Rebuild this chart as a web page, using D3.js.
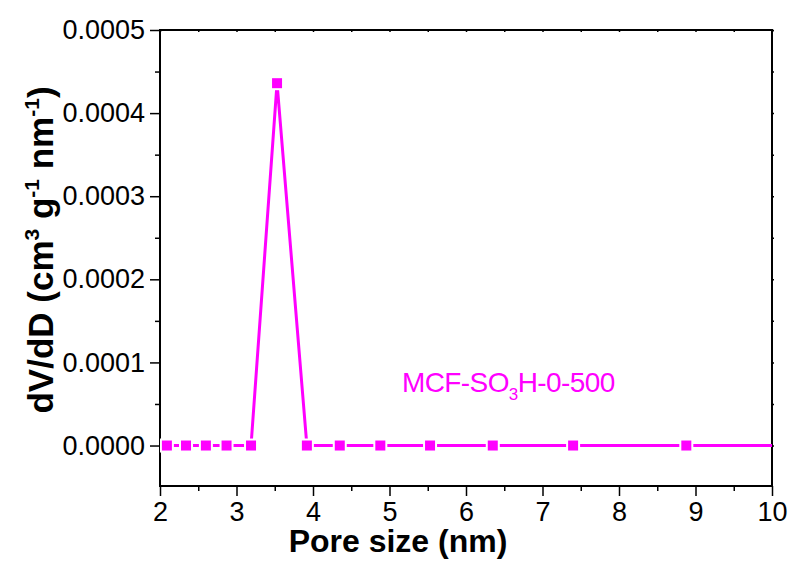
<!DOCTYPE html>
<html>
<head>
<meta charset="utf-8">
<script src="https://cdn.jsdelivr.net/npm/d3@7"></script>
<style>
  body { margin: 0; background: #fff; }
  text { font-family: "Liberation Sans", Arial, sans-serif; }
</style>
</head>
<body>
<div id="chart"></div>
<script>
// pore size distribution, MCF-SO3H-0-500
var poreSize = [2.09, 2.34, 2.60, 2.87, 3.19, 3.53, 3.92, 4.35, 4.88, 5.53, 6.35, 7.40, 8.88, 11.2];
var dvdd = [0, 0, 0, 0, 0, 0.000436, 0, 0, 0, 0, 0, 0, 0, 0];
var xTicks = [2, 3, 4, 5, 6, 7, 8, 9, 10];
var yTicks = [0, 0.0001, 0.0002, 0.0003, 0.0004, 0.0005];

const chart_width = 794;
const chart_height = 563;
const pLeft = 160, pRight = 772, pTop = 30, pBottom = 486;
const color = '#ff00ff';

var svg = d3.select('#chart')
  .append('svg')
  .attr('width', chart_width)
  .attr('height', chart_height);

var x = d3.scaleLinear().domain([2, 10]).range([pLeft, pRight]);
var y = d3.scaleLinear().domain([-0.0000487, 0.0005]).range([pBottom, pTop]);

// minor ticks every half unit
var xMinor = d3.range(2.5, 10, 1);
var yMinor = d3.range(0.00005, 0.0005, 0.0001);

// bottom axis
var xAxis = svg.append('g')
  .attr('transform', 'translate(0,' + pBottom + ')')
  .call(d3.axisBottom(x).tickValues(xTicks).tickSize(10).tickSizeOuter(0).tickFormat(d3.format('d')));
xAxis.selectAll('text').attr('font-size', 27).attr('dy', '0.8em').attr('fill', '#000');
svg.append('g')
  .attr('transform', 'translate(0,' + pBottom + ')')
  .call(d3.axisBottom(x).tickValues(xMinor).tickSize(5).tickSizeOuter(0).tickFormat(''));

// left axis
var yAxis = svg.append('g')
  .attr('transform', 'translate(' + pLeft + ',0)')
  .call(d3.axisLeft(y).tickValues(yTicks).tickSize(10).tickSizeOuter(0).tickFormat(d3.format('.4f')));
yAxis.selectAll('text').attr('font-size', 27).attr('x', -15).attr('fill', '#000');
svg.append('g')
  .attr('transform', 'translate(' + pLeft + ',0)')
  .call(d3.axisLeft(y).tickValues(yMinor).tickSize(5).tickSizeOuter(0).tickFormat(''));

// top and right, tiny ticks
svg.append('g')
  .attr('transform', 'translate(0,' + pTop + ')')
  .call(d3.axisBottom(x).tickValues(d3.range(2, 10.01, 0.5)).tickSize(2).tickSizeOuter(0).tickFormat(''));
svg.append('g')
  .attr('transform', 'translate(' + pRight + ',0)')
  .call(d3.axisRight(y).tickValues(d3.range(0, 0.00051, 0.00005)).tickSize(2).tickSizeOuter(0).tickFormat(''));

svg.selectAll('.domain').remove();
svg.selectAll('.tick line').attr('stroke', '#000').attr('stroke-width', 1.5);

svg.append('rect')
  .attr('x', pLeft).attr('y', pTop)
  .attr('width', pRight - pLeft).attr('height', pBottom - pTop)
  .attr('fill', 'none').attr('stroke', '#000').attr('stroke-width', 2);

// clip
svg.append('clipPath').attr('id', 'clip')
  .append('rect').attr('x', pLeft).attr('y', pTop)
  .attr('width', pRight - pLeft).attr('height', pBottom - pTop);

var pts = poreSize.map((d, i) => [d, dvdd[i]]);
var plot = svg.append('g').attr('clip-path', 'url(#clip)');

plot.append('path')
  .datum(pts)
  .attr('d', d3.line().x(d => x(d[0])).y(d => y(d[1])))
  .attr('fill', 'none')
  .attr('stroke', color)
  .attr('stroke-width', 3);

const ms = 10;
plot.selectAll('rect.pt')
  .data(pts)
  .enter()
  .append('rect')
  .attr('class', 'pt')
  .attr('x', d => x(d[0]) - ms / 2)
  .attr('y', d => y(d[1]) - ms / 2)
  .attr('width', ms)
  .attr('height', ms)
  .attr('fill', color)
  .attr('stroke', '#fff')
  .attr('stroke-width', 4)
  .attr('paint-order', 'stroke');

// sample label
var lab = svg.append('text')
  .attr('x', 402).attr('y', 392)
  .attr('font-size', 28)
  .attr('letter-spacing', -0.6)
  .attr('fill', color);
lab.append('tspan').text('MCF-SO');
lab.append('tspan').attr('font-size', 17).attr('dy', 8).text('3');
lab.append('tspan').attr('dy', -8).text('H-0-500');

// axis titles
svg.append('text')
  .attr('x', 398)
  .attr('y', 552)
  .attr('text-anchor', 'middle')
  .attr('font-size', 32)
  .attr('font-weight', 'bold')
  .text('Pore size (nm)');

var yl = svg.append('text')
  .attr('transform', 'translate(53,250) rotate(-90)')
  .attr('text-anchor', 'middle')
  .attr('font-size', 35)
  .attr('font-weight', 'bold');
yl.append('tspan').text('dV/dD (cm');
yl.append('tspan').attr('font-size', 21).attr('dy', -14).text('3');
yl.append('tspan').attr('dy', 14).text(' g');
yl.append('tspan').attr('font-size', 21).attr('dy', -14).text('-1');
yl.append('tspan').attr('dy', 14).text(' nm');
yl.append('tspan').attr('font-size', 21).attr('dy', -14).text('-1');
yl.append('tspan').attr('dy', 14).text(')');
</script>
</body>
</html>
